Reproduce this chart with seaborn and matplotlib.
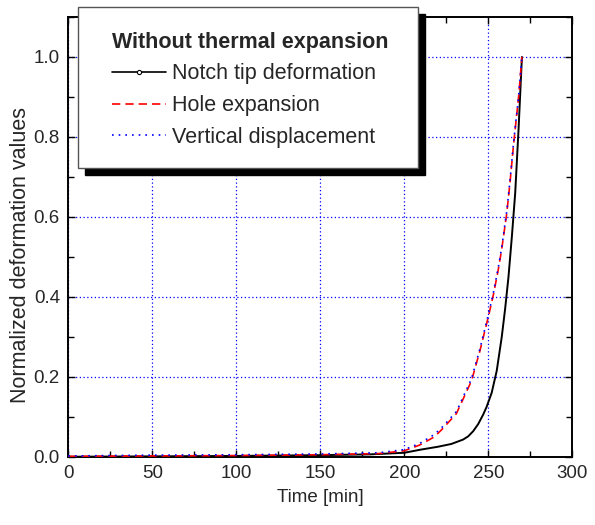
import matplotlib
matplotlib.use("Agg")
import matplotlib.pyplot as plt
import pandas as pd
import seaborn as sns
from matplotlib.lines import Line2D
from matplotlib.patches import Rectangle
from matplotlib.ticker import MultipleLocator

# Notch tip deformation (black solid)
notch_time = [0, 50, 100, 150, 180, 200, 210, 220, 228, 235, 238, 241, 244, 247, 249,
              252, 255, 258, 260, 262, 264, 266, 268, 270]
notch_value = [0.0, 0.001, 0.002, 0.004, 0.006, 0.010, 0.018, 0.025, 0.032, 0.043,
               0.051, 0.064, 0.082, 0.106, 0.125, 0.160, 0.215, 0.300, 0.370, 0.450,
               0.550, 0.660, 0.820, 1.0]

# Hole expansion (red dashed)
hole_time = [0, 50, 100, 150, 185, 200, 209, 218, 223, 231, 240, 245, 250, 253, 256,
             258, 261, 263, 265, 268, 270]
hole_value = [0.001, 0.002, 0.003, 0.005, 0.008, 0.015, 0.029, 0.050, 0.071, 0.108,
              0.190, 0.265, 0.350, 0.405, 0.470, 0.520, 0.610, 0.690, 0.780, 0.900, 1.0]

# Vertical displacement (blue dotted)
vert_time = [0, 50, 100, 150, 185, 200, 209, 218, 223, 231, 240, 245, 250, 253, 256,
             258, 261, 263, 265, 268, 270]
vert_value = [0.002, 0.004, 0.005, 0.007, 0.010, 0.018, 0.033, 0.056, 0.076, 0.113,
              0.195, 0.270, 0.355, 0.410, 0.475, 0.525, 0.615, 0.695, 0.785, 0.900, 1.0]

labels = ["Notch tip deformation", "Hole expansion", "Vertical displacement"]
legend_title = "Without thermal expansion"


def main() -> None:
    sns.set_style("ticks")
    plt.rcParams["font.family"] = ["Liberation Sans", "DejaVu Sans"]

    fig = plt.figure(figsize=(5.95, 5.25), dpi=100)
    ax = fig.add_axes([0.1148, 0.130, 0.8471, 0.8376])

    notch_df = pd.DataFrame({"t": notch_time, "v": notch_value})
    hole_df = pd.DataFrame({"t": hole_time, "v": hole_value})
    vert_df = pd.DataFrame({"t": vert_time, "v": vert_value})

    sns.lineplot(data=notch_df, x="t", y="v", ax=ax, color="black", linewidth=1.4,
                 zorder=3)
    sns.lineplot(data=hole_df, x="t", y="v", ax=ax, color="red", linewidth=1.2,
                 linestyle=(0, (5, 3)), zorder=3)
    sns.lineplot(data=vert_df, x="t", y="v", ax=ax, color="blue", linewidth=1.2,
                 linestyle=(0, (1, 3)), zorder=3)

    ax.set_xlim(0, 300)
    ax.set_ylim(0, 1.1)
    ax.xaxis.set_major_locator(MultipleLocator(50))
    ax.xaxis.set_minor_locator(MultipleLocator(25))
    ax.yaxis.set_major_locator(MultipleLocator(0.2))
    ax.yaxis.set_minor_locator(MultipleLocator(0.1))
    ax.yaxis.set_major_formatter(plt.FormatStrFormatter("%.1f"))
    ax.tick_params(which="both", direction="in", top=True, right=True,
                   color="black", width=1.0)
    ax.tick_params(which="major", length=5, labelsize=13.5, pad=6)
    ax.tick_params(which="minor", length=4)
    ax.grid(True, which="major", color="blue", linestyle=(0, (1, 2)), linewidth=0.9)
    for spine in ax.spines.values():
        spine.set_color("black")
        spine.set_linewidth(1.4)

    ax.set_xlabel("Time [min]", fontsize=13.5, labelpad=5)
    ax.set_ylabel("Normalized deformation values", fontsize=15.5)
    ax.yaxis.set_label_coords(-0.074, 0.459)

    # Legend box with heavy drop shadow
    box_x0, box_y0, box_w, box_h = 0.019, 0.657, 0.675, 0.366
    ax.add_patch(Rectangle((box_x0 + 0.0139, box_y0 - 0.0159), box_w, box_h,
                           transform=ax.transAxes, facecolor="black",
                           edgecolor="black", zorder=6, clip_on=False))
    ax.add_patch(Rectangle((box_x0, box_y0), box_w, box_h, transform=ax.transAxes,
                           facecolor="white", edgecolor="#555555", linewidth=1.0,
                           zorder=6.5, clip_on=False))

    handles = [
        Line2D([], [], color="black", linewidth=1.2, marker="o", markersize=3,
               markerfacecolor="white", markeredgewidth=0.8),
        Line2D([], [], color="red", linewidth=1.2, linestyle=(0, (5, 3))),
        Line2D([], [], color="blue", linewidth=1.2, linestyle=(0, (1, 3))),
    ]
    leg = ax.legend(handles, labels, title=legend_title, loc="upper left",
                    bbox_to_anchor=(0.0867, 0.967), borderaxespad=0, borderpad=0,
                    frameon=False, fontsize=15.5, handlelength=2.5,
                    handletextpad=0.3, labelspacing=0.5, numpoints=1,
                    alignment="left",
                    title_fontproperties={"weight": "bold", "size": 15.5})
    leg.set_zorder(7)

    fig.savefig("out.png", dpi=100)
    plt.close(fig)


if __name__ == "__main__":
    main()
